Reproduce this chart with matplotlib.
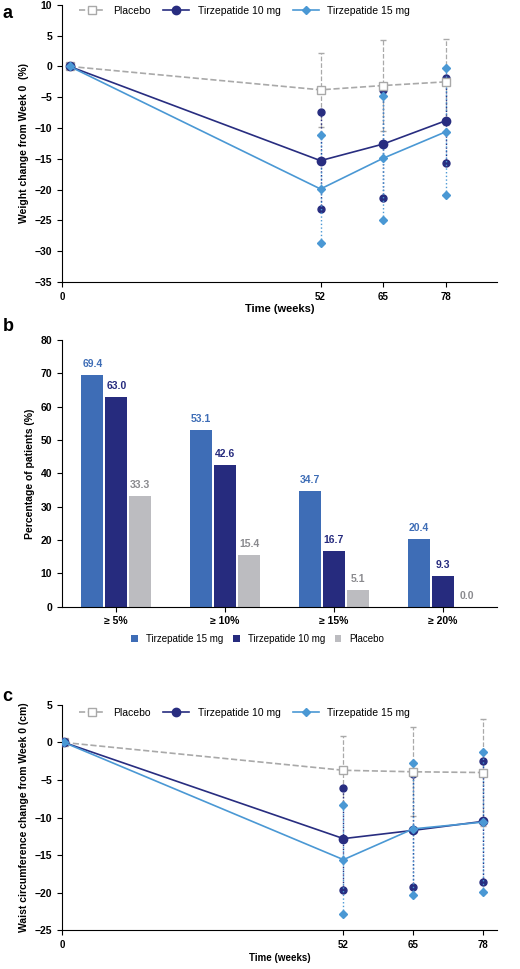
import matplotlib
matplotlib.use("Agg")
import matplotlib.pyplot as plt
import numpy as np

weeks = [0, 52, 65, 78]
wa_pbo = [0, -3.8, -3.1, -2.5]; wa_pbo_e = [0, 6.0, 7.4, 7.0]
wa_10 = [0, -15.3, -12.6, -8.8]; wa_10_e = [0, 7.9, 8.7, 6.9]
wa_15 = [0, -19.9, -14.9, -10.6]; wa_15_e = [0, 8.8, 10.1, 10.3]

cats = ["≥ 5%", "≥ 10%", "≥ 15%", "≥ 20%"]
b15 = [69.4, 53.1, 34.7, 20.4]
b10 = [63.0, 42.6, 16.7, 9.3]
bpbo = [33.3, 15.4, 5.1, 0.0]

wc_pbo = [0, -3.7, -3.9, -4.0]; wc_pbo_e = [0, 4.5, 5.9, 7.1]
wc_10 = [0, -12.8, -11.7, -10.5]; wc_10_e = [0, 6.8, 7.5, 8.1]
wc_15 = [0, -15.6, -11.5, -10.6]; wc_15_e = [0, 7.3, 8.8, 9.3]

C10 = "#282d80"; C15 = "#4a98d4"; CP = "#a9a9a9"
B15 = "#3e6db6"; B10 = "#262b7e"; BP = "#bcbcc0"
plt.rcParams['font.family'] = ['Liberation Sans', 'DejaVu Sans']

fig = plt.figure(figsize=(5.2, 9.69), dpi=100)

def line_panel(ax, pbo, pe, t10, e10, t15, e15, ylim, yticks, ylabel, xlabfs, xlim):
    x = np.array(weeks, dtype=float)
    for y, e, c, m, ms in [(t10, e10, C10, 'o', 5), (t15, e15, C15, 'D', 4)]:
        y = np.array(y); e = np.array(e)
        for xi, yi, ei in zip(x[1:], y[1:], e[1:]):
            ax.plot([xi, xi], [yi - ei, yi + ei], ls=':', color=c, lw=1, zorder=2)
            ax.plot([xi, xi], [yi - ei, yi + ei], ls='none', marker=m, ms=ms, color=c, zorder=2)
    p = np.array(pbo); pe = np.array(pe)
    for xi, yi, ei in zip(x[1:], p[1:], pe[1:]):
        ax.plot([xi, xi], [yi - ei, yi + ei], ls='--', color=CP, lw=0.9, zorder=1)
        ax.plot([xi, xi], [yi - ei, yi + ei], ls='none', marker='_', ms=4, color=CP, zorder=1)
    ax.plot(x, pbo, ls='--', color=CP, lw=1.2, marker='s', mfc='white', mec=CP, ms=6, label='Placebo', zorder=3)
    ax.plot(x, t10, color=C10, lw=1.2, marker='o', ms=6, label='Tirzepatide 10 mg', zorder=4)
    ax.plot(x, t15, color=C15, lw=1.2, marker='D', ms=4.5, label='Tirzepatide 15 mg', zorder=5)
    ax.set_xlim(*xlim)
    ax.set_xticks([xlim[0], 52, 65, 78]); ax.set_xticklabels(['0', '52', '65', '78'], fontweight='bold', fontsize=7)
    ax.set_ylim(*ylim); ax.set_yticks(yticks)
    ax.tick_params(axis='y', labelsize=7.5)
    for t in ax.get_yticklabels(): t.set_fontweight('bold')
    ax.spines['top'].set_visible(False); ax.spines['right'].set_visible(False)
    ax.set_ylabel(ylabel, fontweight='bold', fontsize=7.5)
    ax.set_xlabel('Time (weeks)', fontweight='bold', fontsize=xlabfs, labelpad=2)
    ax.legend(loc='upper center', bbox_to_anchor=(0.42, 1.03), ncol=3, frameon=False, fontsize=7.5,
              handlelength=2.5, columnspacing=1.2)

ax1 = fig.add_axes([0.119, 0.709, 0.837, 0.286])
line_panel(ax1, wa_pbo, wa_pbo_e, wa_10, wa_10_e, wa_15, wa_15_e, (-35, 10), range(-35, 11, 5),
           'Weight change from Week 0  (%)', 8, (-1.6, 88.6))

ax2 = fig.add_axes([0.119, 0.374, 0.837, 0.275])
xi = np.arange(len(cats)); w = 0.22
for vals, c, off, lab in [(b15, B15, -w, 'Tirzepatide 15 mg'), (b10, B10, 0, 'Tirzepatide 10 mg'), (bpbo, BP, w, 'Placebo')]:
    ax2.bar(xi + off, vals, w * 0.92, color=c, label=lab)
    tc = '#8a8a8e' if c == BP else c
    for xx, v in zip(xi + off, vals):
        ax2.text(xx, v + 1.8, f"{v:.1f}", ha='center', va='bottom', fontsize=7.5, fontweight='bold', color=tc)
ax2.set_xlim(-0.5, 3.5); ax2.set_ylim(0, 80)
ax2.set_xticks(xi); ax2.set_xticklabels(cats, fontweight='bold', fontsize=7.5)
ax2.tick_params(axis='y', labelsize=7.5)
for t in ax2.get_yticklabels(): t.set_fontweight('bold')
ax2.spines['top'].set_visible(False); ax2.spines['right'].set_visible(False)
ax2.set_ylabel('Percentage of patients (%)', fontweight='bold', fontsize=7.5)
ax2.legend(loc='upper center', bbox_to_anchor=(0.45, -0.07), ncol=3, frameon=False, fontsize=7,
           handlelength=0.7, handleheight=0.7, columnspacing=1.0)

ax3 = fig.add_axes([0.119, 0.04, 0.837, 0.2325])
line_panel(ax3, wc_pbo, wc_pbo_e, wc_10, wc_10_e, wc_15, wc_15_e, (-25, 5), range(-25, 6, 5),
           'Waist circumference change from Week 0 (cm)', 7, (-0.4, 80.6))

for y, s in [(0.995, 'a'), (0.672, 'b'), (0.29, 'c')]:
    fig.text(0.005, y, s, fontsize=13, fontweight='bold', va='top')

fig.savefig('out.png', dpi=100)
